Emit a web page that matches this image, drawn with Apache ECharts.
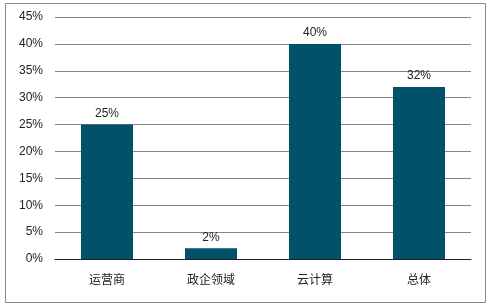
<!DOCTYPE html>
<html>
<head>
<meta charset="utf-8">
<script src="https://cdn.jsdelivr.net/npm/echarts@6/dist/echarts.min.js"></script>
<style>
  html, body { margin: 0; padding: 0; background: #fff; }
  #chart { width: 491px; height: 308px; }
</style>
</head>
<body>
<div id="chart"></div>
<script>
// 数据
var categories = ['运营商', '政企领域', '云计算', '总体']
var values = [25, 2, 40, 32]

var chart = echarts.init(document.getElementById('chart'))
var option = {
  animation: false,
  textStyle: {
    fontFamily: '"Liberation Sans", Arial, "Noto Sans CJK SC", sans-serif'
  },
  // 外边框
  graphic: [{
    type: 'rect',
    shape: { x: 5.5, y: 3.5, width: 480, height: 299 },
    style: { fill: 'none', stroke: '#8a8a8a', lineWidth: 1 },
    silent: true
  }],
  grid: {
    left: 55,
    right: 20,
    top: 17,
    bottom: 49
  },
  xAxis: {
    type: 'category',
    data: categories,
    axisTick: { show: false },
    axisLine: { lineStyle: { color: '#222', width: 1 } },
    axisLabel: {
      margin: 14,
      fontSize: 12,
      color: '#222',
      fontFamily: '"Noto Sans CJK SC", sans-serif'
    }
  },
  yAxis: {
    type: 'value',
    min: 0,
    max: 45,
    interval: 5,
    axisLine: { show: false },
    axisTick: { show: false },
    axisLabel: {
      formatter: '{value}%',
      fontSize: 12,
      color: '#222',
      margin: 12
    },
    splitLine: { lineStyle: { color: '#848484', width: 1 } }
  },
  series: [{
    type: 'bar',
    data: values,
    barWidth: '50%',
    itemStyle: { color: '#02516b' },
    label: {
      show: true,
      position: 'top',
      distance: 5,
      formatter: '{c}%',
      fontSize: 12,
      color: '#222'
    }
  }]
}
chart.setOption(option)
</script>
</body>
</html>
